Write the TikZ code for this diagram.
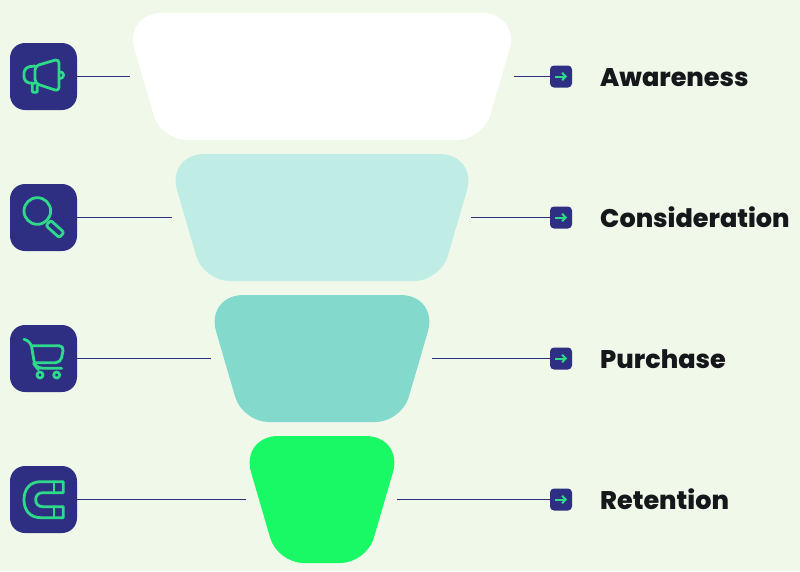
\documentclass[tikz,border=0pt]{standalone}
\usepackage{fontspec}
\usetikzlibrary{arrows.meta}
\setmainfont[BoldFont={Poppins ExtraBold}]{Poppins}
\definecolor{bgc}{HTML}{F0F9E9}
\definecolor{navy}{HTML}{2E2F82}
\definecolor{grn}{HTML}{2FD98A}
\definecolor{inkc}{HTML}{15171A}
\definecolor{fa}{HTML}{FFFFFF}
\definecolor{fb}{HTML}{BFECE4}
\definecolor{fc}{HTML}{82D9CC}
\definecolor{fd}{HTML}{19F966}
\tikzset{
  iconbox/.style={fill=navy,rounded corners=15pt,minimum size=67pt,inner sep=0pt,draw=none},
  arrowbox/.style={fill=navy,rounded corners=4pt,minimum size=22pt,inner sep=0pt,draw=none},
  link/.style={draw=navy,line width=1.2pt},
  glyph/.style={draw=grn,line width=2.8pt,line join=round,line cap=round},
  tinyarrow/.style={draw=grn,line width=2pt,-{Straight Barb[length=3.5pt,width=7.5pt]}},
  stage/.style={anchor=base west,font=\bfseries\fontsize{25.5}{25.5}\selectfont,text=inkc,inner sep=0pt},
  icongrid/.style={x=0.33333pt,y=-0.33333pt}
}
\newcommand{\funnel}[3]{% y top, half width at top corner, colour
  \fill[#3]
    (322,#1)
    [rounded corners=38pt] -- ({322-#2},#1)
    [rounded corners=26pt] -- ({322-#2+37},{#1+127})
    -- ({322+#2-37},{#1+127})
    [rounded corners=38pt] -- ({322+#2},#1)
    [sharp corners] -- (322,#1) -- cycle;
}
\begin{document}
\begin{tikzpicture}[x=1pt,y=-1pt]
\useasboundingbox[fill=bgc] (0,0) rectangle (800,571);
\funnel{13}{198}{fa}
\funnel{154}{155.5}{fb}
\funnel{295}{116.5}{fc}
\funnel{436}{81.5}{fd}
% icon boxes
\node[iconbox] (i1) at (43.5,76.5) {};
\node[iconbox] (i2) at (43.5,217.5) {};
\node[iconbox] (i3) at (43.5,358.5) {};
\node[iconbox] (i4) at (43.5,499.5) {};
% arrow boxes
\node[arrowbox] (a1) at (561,76.5) {};
\node[arrowbox] (a2) at (561,217.5) {};
\node[arrowbox] (a3) at (561,358.5) {};
\node[arrowbox] (a4) at (561,499.5) {};
% free ends
\coordinate (l1) at (130,76.5);\coordinate (r1) at (514,76.5);
\coordinate (l2) at (172,217.5);\coordinate (r2) at (471,217.5);
\coordinate (l3) at (211,358.5);\coordinate (r3) at (432,358.5);
\coordinate (l4) at (246,499.5);\coordinate (r4) at (397,499.5);
\foreach \k in {1,2,3,4}{
  \draw[link] (i\k.east) -- (l\k);
  \draw[link] (r\k) -- (a\k.west);
  \draw[tinyarrow] ([xshift=-6pt]a\k.center) -- ([xshift=6pt]a\k.center);
}
% labels
\node[stage] (t1) at (600,86) {Awareness};
\node[stage] (t2) at (600,227) {Consideration};
\node[stage] (t3) at (600,368) {Purchase};
\node[stage] (t4) at (600,509) {Retention};
% megaphone
\begin{scope}[shift={(0pt,-30pt)},icongrid]
\draw[glyph,rounded corners=4pt] (105,108) -- (177,87) -- (177,184) -- (105,160) -- cycle;
\draw[glyph,rounded corners=6pt] (105,108) -- (72,112) -- (72,158) -- (105,160);
\draw[glyph,rounded corners=1pt] (97,162) -- (97,187) -- (112,187) -- (112,167);
\draw[glyph] (178,125) .. controls (195,125) and (195,146) .. (178,146);
\end{scope}
% magnifier
\begin{scope}[shift={(0pt,-175pt)},icongrid]
\draw[glyph] (112,108) circle[radius=40];
\draw[glyph,rounded corners=2pt] (152,136) -- (192,172) -- (178,188) -- (138,152) -- cycle;
\end{scope}
% cart
\begin{scope}[shift={(0pt,-315pt)},icongrid]
\draw[glyph,rounded corners=6pt] (72,73) -- (92,78) -- (104,150) -- (112,160) -- (185,160);
\draw[glyph,rounded corners=5pt] (95,92) -- (192,92) -- (182,143) -- (102,143);
\draw[glyph] (120,180) circle[radius=9];
\draw[glyph] (170,180) circle[radius=9];
\end{scope}
% magnet
\begin{scope}[shift={(0pt,-455pt)},icongrid]
\draw[glyph] (190,80) -- (122,80) .. controls (90,80) and (72,102) .. (72,134)
  .. controls (72,166) and (90,188) .. (122,188) -- (190,188) -- (190,155) -- (128,155)
  .. controls (115,155) and (107,146) .. (107,134) .. controls (107,122) and (115,113) .. (128,113)
  -- (190,113) -- cycle;
\draw[glyph] (162,80) -- (162,113);
\draw[glyph] (162,155) -- (162,188);
\end{scope}
\end{tikzpicture}
\end{document}
